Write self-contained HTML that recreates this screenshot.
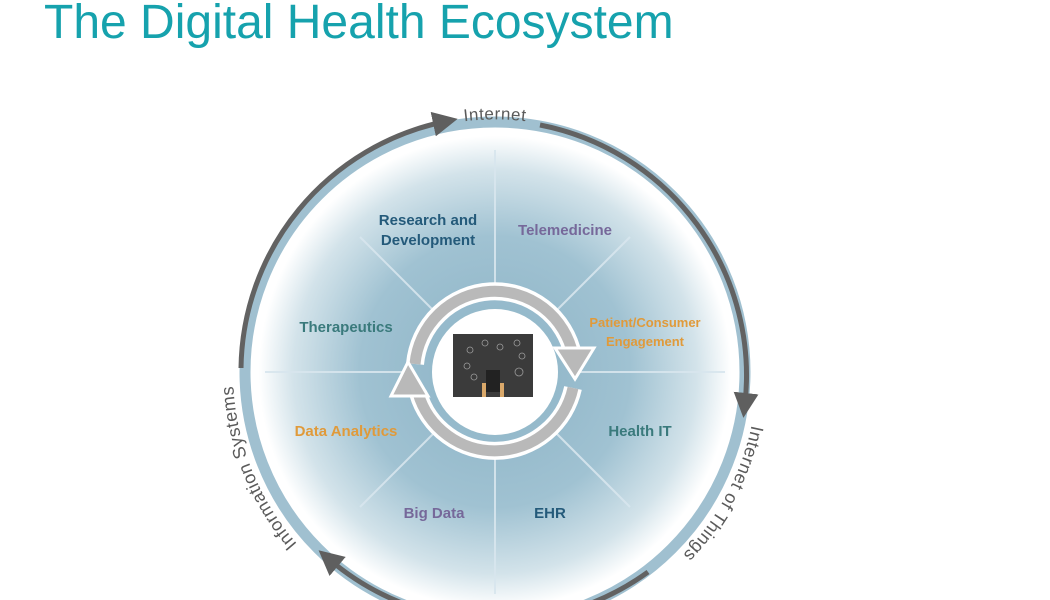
<!DOCTYPE html>
<html><head><meta charset="utf-8"><style>
html,body{margin:0;padding:0;background:#fff;width:1050px;height:600px;overflow:hidden}
svg{display:block}
</style></head><body>
<svg width="1050" height="600" viewBox="0 0 1050 600" xmlns="http://www.w3.org/2000/svg" font-family="Liberation Sans, sans-serif">
<defs>
<radialGradient id="g" cx="495" cy="372" r="246" gradientUnits="userSpaceOnUse">
<stop offset="0" stop-color="#8bb2c5"/>
<stop offset="0.55" stop-color="#a0c2d2"/>
<stop offset="0.82" stop-color="#d3e3ea"/>
<stop offset="0.96" stop-color="#ffffff"/>
</radialGradient>
<marker id="ah" markerWidth="5" markerHeight="5" refX="2" refY="2.5" orient="auto" markerUnits="strokeWidth">
<path d="M0,0 L5,2.5 L0,5 z" fill="#5f5f5f"/>
</marker>
<path id="pInt" d="M 335 175 A 258 258 0 0 1 655 175"/>
<path id="pIS" d="M 326.6 572.7 A 262 262 0 0 1 234.4 344.6"/>
<path id="pIoT" d="M 757 376.6 A 262 262 0 0 1 645.3 586.6"/>
</defs>
<text x="44" y="38" font-size="48" fill="#16a2ad">The Digital Health Ecosystem</text>

<circle cx="495" cy="372" r="246" fill="url(#g)"/>
<circle cx="495" cy="372" r="250" fill="none" stroke="#a0c0d0" stroke-width="11"/>

<g stroke="#d8e6ee" stroke-width="2" opacity="0.9">
<line x1="495" y1="292" x2="495" y2="150"/>
<line x1="495" y1="452" x2="495" y2="594"/>
<line x1="415" y1="372" x2="265" y2="372"/>
<line x1="575" y1="372" x2="725" y2="372"/>
<line x1="438" y1="315" x2="360" y2="237"/>
<line x1="552" y1="315" x2="630" y2="237"/>
<line x1="438" y1="429" x2="360" y2="507"/>
<line x1="552" y1="429" x2="630" y2="507"/>
</g>

<g fill="none" stroke="#626262" stroke-width="5">
<path d="M 241 368 A 255 255 0 0 1 443 122" marker-end="url(#ah)"/>
<path d="M 540 125 A 255 255 0 0 1 745 403" marker-end="url(#ah)"/>
<path d="M 648 572 A 258 258 0 0 1 330 560" marker-end="url(#ah)"/>
</g>

<text font-size="17" fill="#5a5a5a" letter-spacing="0.5"><textPath href="#pInt" startOffset="50%" text-anchor="middle">Internet</textPath></text>
<text font-size="18" fill="#5a5a5a" letter-spacing="0.5"><textPath href="#pIS" startOffset="50%" text-anchor="middle">Information Systems</textPath></text>
<text font-size="18" fill="#5a5a5a" letter-spacing="0.5"><textPath href="#pIoT" startOffset="50%" text-anchor="middle">Internet of Things</textPath></text>

<circle cx="495" cy="372" r="63" fill="#fff"/>

<g fill="none" stroke-linecap="butt">
<path d="M 415 364 A 80 80 0 0 1 573 355" stroke="#fff" stroke-width="18"/>
<path d="M 573 388 A 80 80 0 0 1 418 393" stroke="#fff" stroke-width="18"/>
<path d="M 415 364 A 80 80 0 0 1 573 355" stroke="#b9b9b9" stroke-width="11"/>
<path d="M 573 388 A 80 80 0 0 1 418 393" stroke="#b9b9b9" stroke-width="11"/>
</g>
<polygon points="555,348 594,348 575,379" fill="#b9b9b9" stroke="#fff" stroke-width="3"/>
<polygon points="391,396 428,396 408,362" fill="#b9b9b9" stroke="#fff" stroke-width="3"/>

<rect x="453" y="334" width="80" height="63" fill="#3b3b3b"/>
<g stroke="#9a9a9a" stroke-width="0.8" fill="none">
<circle cx="470" cy="350" r="3"/><circle cx="485" cy="343" r="3"/><circle cx="500" cy="347" r="3"/>
<circle cx="517" cy="343" r="3"/><circle cx="522" cy="356" r="3"/><circle cx="467" cy="366" r="3"/>
<circle cx="519" cy="372" r="4"/><circle cx="474" cy="377" r="3"/>
</g>
<rect x="486" y="370" width="14" height="22" fill="#222"/>
<rect x="482" y="383" width="4" height="14" fill="#d9a86a"/>
<rect x="500" y="383" width="4" height="14" fill="#d9a86a"/>

<g font-weight="bold" text-anchor="middle">
<text x="428" y="225" font-size="15" fill="#245a7a">Research and</text>
<text x="428" y="245" font-size="15" fill="#245a7a">Development</text>
<text x="565" y="235" font-size="15" fill="#76689a">Telemedicine</text>
<text x="346" y="332" font-size="15" fill="#3a7a7c">Therapeutics</text>
<text x="645" y="327" font-size="13" fill="#e09a3a">Patient/Consumer</text>
<text x="645" y="346" font-size="13" fill="#e09a3a">Engagement</text>
<text x="346" y="436" font-size="15" fill="#e09a3a">Data Analytics</text>
<text x="640" y="436" font-size="15" fill="#3a7a7c">Health IT</text>
<text x="434" y="518" font-size="15" fill="#76689a">Big Data</text>
<text x="550" y="518" font-size="15" fill="#245a7a">EHR</text>
</g>
</svg>
</body></html>
